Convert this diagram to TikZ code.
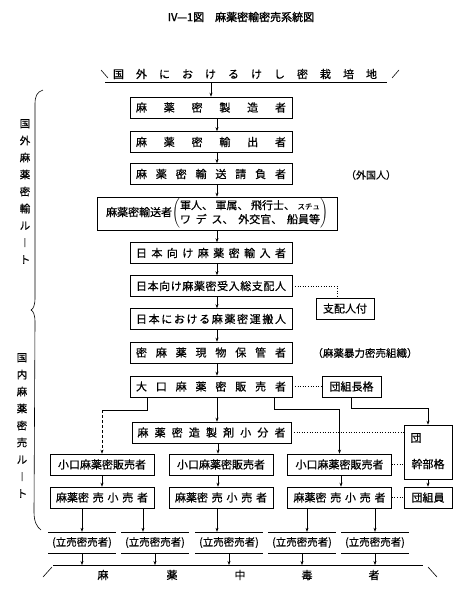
\documentclass[tikz,border=0pt]{standalone}
\usepackage{fontspec}
\usepackage{graphicx}
\setmainfont[FakeBold=0.5]{Noto Sans CJK JP}
\newfontfamily\cjkb[FakeBold=1.5]{Noto Sans CJK JP}
\usetikzlibrary{arrows.meta}
\newcommand\hf{\hfill}
\newcommand\tachi{(立売密売者)}
\begin{document}
\begin{tikzpicture}[x=1pt,y=-1pt,
  font=\fontsize{11}{13}\selectfont,
  bx/.style={draw, line width=0.6pt, inner sep=0pt, minimum height=21pt},
  tb/.style={inner sep=0pt, minimum height=21pt, minimum width=67pt, font=\fontsize{10.5}{12}\selectfont},
  arr/.style={-{Stealth[length=4pt,width=3pt]}, line width=0.6pt},
  dotl/.style={dotted, line width=0.6pt},
  ln/.style={line width=0.6pt},
  lbl/.style={inner sep=0pt}]
\useasboundingbox (0,0) rectangle (475,600);
% title
\node[lbl, font=\cjkb\fontsize{11}{13}\selectfont] (title) at (241,17) {IV—1図\quad 麻薬密輸密売系統図};
% source line
\node[lbl] (src) at (245,74) {\makebox[264pt]{国\hf 外\hf に\hf お\hf け\hf る\hf け\hf し\hf 密\hf 栽\hf 培\hf 地}};
\coordinate (ul1) at (105,82); \coordinate (ul2) at (387,82);
\draw[ln] (ul1) -- (ul2);
\draw[ln] (101,70) -- (108,78);
\draw[ln] (392,78) -- (399,70);
% main column
\node[bx, minimum width=162pt] (b1) at (211,107.5) {\makebox[150pt]{麻\hf 薬\hf 密\hf 製\hf 造\hf 者}};
\node[bx, minimum width=162pt] (b2) at (211,142) {\makebox[150pt]{麻\hf 薬\hf 密\hf 輸\hf 出\hf 者}};
\node[bx, minimum width=162pt] (b3) at (211,174) {\makebox[150pt]{麻\hf 薬\hf 密\hf 輸\hf 送\hf 請\hf 負\hf 者}};
\node[bx, minimum width=240pt, minimum height=33pt] (b4) at (217,213.5) {麻薬密輸送者$\left(\vcenter{\hbox{\fontsize{11}{14}\selectfont\begin{tabular}{@{}l@{}}\makebox[140pt]{軍人、\hf 軍属、\hf 飛行士、\hf {\fontsize{7.5}{8}\selectfont スチュ}}\\\makebox[140pt]{ワ\hf デ\hf ス、\hf 外交官、\hf 船員等}\end{tabular}}}\right)$};
\node[bx, minimum width=162pt] (b5) at (211,253) {\makebox[150pt]{日\hf 本\hf 向\hf け\hf 麻\hf 薬\hf 密\hf 輸\hf 入\hf 者}};
\node[bx, minimum width=162pt] (b6) at (211,286) {\makebox[150pt]{日\hf 本\hf 向\hf け\hf 麻\hf 薬\hf 密\hf 受\hf 入\hf 総\hf 支\hf 配\hf 人}};
\node[bx, minimum width=162pt] (b7) at (211,319) {\makebox[150pt]{日\hf 本\hf に\hf お\hf け\hf る\hf 麻\hf 薬\hf 密\hf 運\hf 搬\hf 人}};
\node[bx, minimum width=162pt] (b8) at (211,352.5) {\makebox[150pt]{密\hf 麻\hf 薬\hf 現\hf 物\hf 保\hf 管\hf 者}};
\node[bx, minimum width=162pt] (b9) at (211,386.5) {\makebox[150pt]{大\hf 口\hf 麻\hf 薬\hf 密\hf 販\hf 売\hf 者}};
\node[bx, minimum width=159pt] (b10) at (211.5,432.5) {\makebox[148pt]{麻\hf 薬\hf 密\hf 造\hf 製\hf 剤\hf 小\hf 分\hf 者}};
% labels
\node[lbl, font=\fontsize{10}{12}\selectfont] (fk) at (371,175) {（外国人）};
\node[lbl, font=\fontsize{10.5}{12}\selectfont] (bo) at (365,353) {（麻薬暴力密売組織）};
% side boxes
\node[bx, minimum width=58pt] (gs) at (345,308.5) {支配人付};
\node[bx, minimum width=59pt] (g1) at (351.5,386.5) {団組長格};
\node[bx, minimum width=48pt, minimum height=54pt] (g2) at (428,452) {};
\node[lbl] (g2a) at (416,438) {団};
\node[lbl] (g2b) at (428,464) {幹部格};
\node[bx, minimum width=48pt] (g3) at (428,497.5) {団組員};
% columns
\node[bx, minimum width=104pt] (l1) at (102,464.5) {小口麻薬密販売者};
\node[bx, minimum width=104pt] (l2) at (102,497.5) {\makebox[92pt]{麻薬密\hf 売\hf 小\hf 売\hf 者}};
\node[bx, minimum width=104pt] (m1) at (221,464.5) {小口麻薬密販売者};
\node[bx, minimum width=104pt] (m2) at (221,497.5) {\makebox[92pt]{麻薬密\hf 売\hf 小\hf 売\hf 者}};
\node[bx, minimum width=104pt] (r1) at (339.5,464.5) {小口麻薬密販売者};
\node[bx, minimum width=104pt] (r2) at (339.5,497.5) {\makebox[92pt]{麻薬密\hf 売\hf 小\hf 売\hf 者}};
% street sellers
\node[tb] (t1) at (82,542.5) {\tachi};
\node[tb] (t2) at (155,542.5) {\tachi};
\node[tb] (t3) at (229,542.5) {\tachi};
\node[tb] (t4) at (302,542.5) {\tachi};
\node[tb] (t5) at (375,542.5) {\tachi};
\foreach \i in {1,...,5} \draw[ln] (t\i.north west) -- (t\i.north east) (t\i.south west) -- (t\i.south east);
% bottom line
\coordinate (bl1) at (53,565); \coordinate (bl2) at (423,565);
\draw[ln] (bl1) -- (bl2);
\draw[ln] (43,577) -- (52,567);
\draw[ln] (428,567) -- (437,577);
\node[lbl] (z1) at (103,575) {麻};
\node[lbl] (z2) at (172,575) {薬};
\node[lbl] (z3) at (240,575) {中};
\node[lbl] (z4) at (307,575) {毒};
\node[lbl] (z5) at (374,575) {者};
% vertical labels and brace
\node[lbl, align=center, font=\fontsize{10.5}{17}\selectfont] (vl1) at (25,191.5) {国\\外\\麻\\薬\\密\\輸\\ル\\︱\\ト};
\node[lbl, align=center, font=\fontsize{10.5}{17}\selectfont] (vl2) at (22,425.5) {国\\内\\麻\\薬\\密\\売\\ル\\︱\\ト};
\draw[ln] (43,90) .. controls (37,92) and (35,96) .. (35,104) -- (35,298) .. controls (35,306) and (33,309) .. (31,310) .. controls (33,311) and (35,314) .. (35,322) -- (34,512) .. controls (34,522) and (37,527) .. (41,530);
% connectors main
\draw[arr] (b1.north |- ul1) -- (b1.north);
\draw[arr] ([xshift=6pt]b1.south) -- ([xshift=6pt]b2.north);
\draw[arr] ([xshift=6pt]b2.south) -- ([xshift=6pt]b3.north);
\draw[arr] ([xshift=6pt]b3.south) -- (b4.north);
\draw[arr] (b4.south) -- ([xshift=6pt]b5.north);
\draw[arr] ([xshift=6pt]b5.south) -- ([xshift=6pt]b6.north);
\draw[arr] ([xshift=6pt]b6.south) -- ([xshift=6pt]b7.north);
\draw[arr] ([xshift=6pt]b7.south) -- ([xshift=6pt]b8.north);
\draw[arr] ([xshift=6pt]b8.south) -- ([xshift=6pt]b9.north);
\draw[arr] ([xshift=6pt]b9.south) -- ([xshift=5.5pt]b10.north);
\draw[dotl] (b6.east) -| ([xshift=-8pt]gs.north);
\draw[dotl] (b9.east) -- (g1.west);
% branches
\coordinate (jl) at (102,410);
\coordinate (jr) at (339.5,409);
\coordinate (jg) at (428,408);
\draw[ln] ([xshift=-64pt]b9.south) |- (jl);
\draw[arr, densely dashed] (jl) -- (l1.north);
\draw[ln] ([xshift=63pt]b9.south) |- (jr);
\draw[arr] (jr) -- (r1.north);
\draw[ln] (g1.south) |- (jg);
\draw[arr] (jg) -- (g2.north);
\draw[arr] (g2.south) -- (g3.north);
\draw[dotl] (b10.east) -- (b10.east -| g2.west);
\draw[dotl] (r1.east) -- (r1.east -| g2.west);
\draw[dotl] (r2.east) -- (g3.west);
\draw[arr] ([xshift=6.5pt]b10.south) -- ([xshift=-3pt]m1.north);
\draw[arr] (l1.south) -- (l2.north);
\draw[arr] ([xshift=-3pt]m1.south) -- ([xshift=-3pt]m2.north);
\draw[arr] ([xshift=1.5pt]r1.south) -- ([xshift=1.5pt]r2.north);
% to street sellers
\draw[arr] (l2.south -| t1.north) -- (t1.north);
\draw[arr] ([xshift=41pt]l2.south) -- ([xshift=-12pt]t2.north);
\draw[arr] ([xshift=-4pt]m2.south) -- ([xshift=-12pt]t3.north);
\draw[arr] ([xshift=-32.5pt]r2.south) -- ([xshift=5pt]t4.north);
\draw[arr] ([xshift=35.5pt]r2.south) -- (t5.north);
\foreach \i in {1,...,5} \draw[arr] (t\i.south) -- (t\i.south |- bl1);
\end{tikzpicture}
\end{document}
